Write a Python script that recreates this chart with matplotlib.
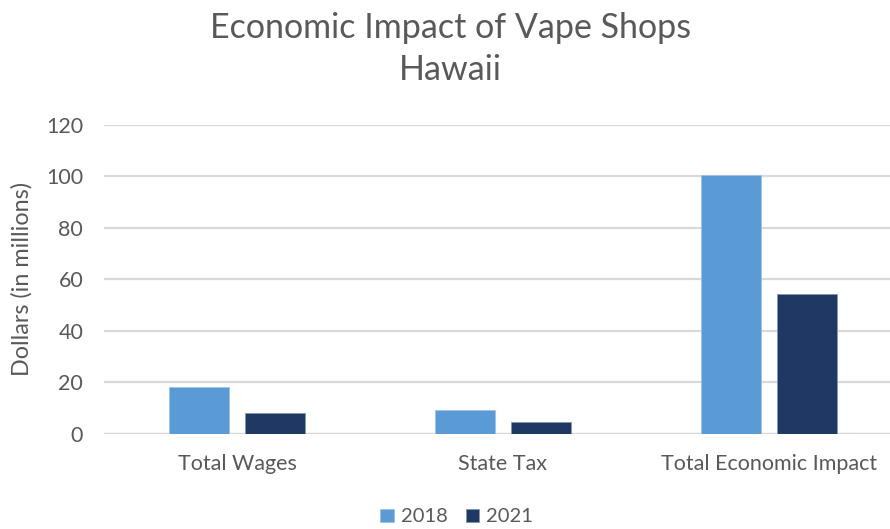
import matplotlib
matplotlib.use("Agg")
import matplotlib.pyplot as plt
import numpy as np

categories = ["Total Wages", "State Tax", "Total Economic Impact"]
series_names = ["2018", "2021"]
values_2018 = [18.2, 9.2, 100.4]
values_2021 = [7.8, 4.3, 54.4]
yticks = [0, 20, 40, 60, 80, 100, 120]

plt.rcParams['font.family'] = ['Lato', 'DejaVu Sans']
grey = "#595959"

fig = plt.figure(figsize=(8.9, 5.29), dpi=100)
ax = fig.add_axes([104/890, 1-433.5/529, (890-104)/890, (433.5-125)/529])

x = np.arange(len(categories))
w = 0.226
off = 0.143
ax.bar(x - off, values_2018, w, color="#5B9BD5", edgecolor="#9DC3E6", linewidth=0.6, label=series_names[0], zorder=3)
ax.bar(x + off, values_2021, w, color="#203864", edgecolor="#8497B0", linewidth=0.6, label=series_names[1], zorder=3)

ax.set_xlim(-0.5, (890-104)/266 - 0.5)
ax.set_ylim(0, 120)
ax.set_yticks(yticks)
ax.set_xticks(x)
ax.set_xticklabels(categories)
ax.tick_params(axis='both', length=0, labelsize=15.5, colors=grey)
ax.tick_params(axis='y', pad=15)
ax.tick_params(axis='x', pad=15)
ax.grid(axis='y', color="#D9D9D9", linewidth=1.6, zorder=0)
for s in ax.spines.values():
    s.set_visible(False)
ax.axhline(0, color="#D9D9D9", linewidth=1.6, zorder=2)

ax.set_ylabel("Dollars (in millions)", fontsize=16.8, color=grey, labelpad=10)

fig.text(0.506, 0.947, "Economic Impact of Vape Shops", ha='center', va='center', fontsize=24.5, color=grey)
fig.text(0.506, 0.867, "Hawaii", ha='center', va='center', fontsize=24.5, color=grey)

fig.legend(loc='center', bbox_to_anchor=(0.513, 0.023), ncol=2, frameon=False,
           fontsize=14.5, labelcolor=grey, handlelength=0.65, handleheight=0.65,
           handletextpad=0.35, columnspacing=0.9)

fig.savefig("out.png", dpi=100)
